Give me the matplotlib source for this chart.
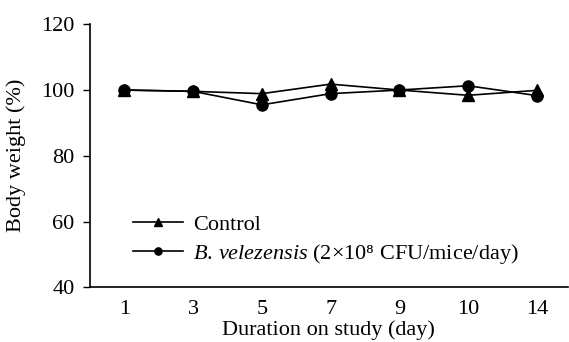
import numpy as np
import matplotlib as mpl
mpl.use("Agg")
from matplotlib import pyplot as plt

plt.rcParams["font.family"] = ["Liberation Serif", "DejaVu Serif"]
plt.rcParams["mathtext.fontset"] = "custom"
plt.rcParams["mathtext.rm"] = "Liberation Serif"
plt.rcParams["mathtext.it"] = "Liberation Serif:italic"

days = ["1", "3", "5", "7", "9", "10", "14"]
control = [100.0, 99.6, 98.9, 101.8, 100.0, 98.4, 99.9]
velezensis = [100.0, 99.6, 95.5, 98.9, 100.0, 101.3, 98.3]

fig = plt.figure(figsize=(5.69, 3.42), dpi=100)
ax = fig.add_axes([0.158, 0.16, 0.84, 0.769])

x = np.arange(len(days))
ax.plot(x, control, color="black", marker="^", markersize=8, linewidth=1.2, label="Control")
ax.plot(x, velezensis, color="black", marker="o", markersize=8, linewidth=1.2,
        label=r"$\mathit{B.\,velezensis}$ (2×10⁸ CFU/mice/day)")

ax.set_xlim(-0.5, 6.45)
ax.set_ylim(40, 120)
ax.set_yticks([40, 60, 80, 100, 120])
ax.set_xticks(x)
ax.set_xticklabels(days)
ax.tick_params(axis="x", length=0, labelsize=16, pad=9)
ax.tick_params(axis="y", length=5, width=1, labelsize=16, pad=6)
for side in ["top", "right"]:
    ax.spines[side].set_visible(False)
for side in ["left", "bottom"]:
    ax.spines[side].set_linewidth(1.2)

ax.set_xlabel("Duration on study (day)", fontsize=16, labelpad=1)
ax.set_ylabel("Body weight (%)", fontsize=16, labelpad=11)

ax.legend(loc="upper left", bbox_to_anchor=(0.09, 0.277), frameon=False, fontsize=16,
          handlelength=2.25, handletextpad=0.45, labelspacing=0.3, borderaxespad=0,
          borderpad=0, markerscale=0.65)

fig.savefig("out.png", dpi=100)
